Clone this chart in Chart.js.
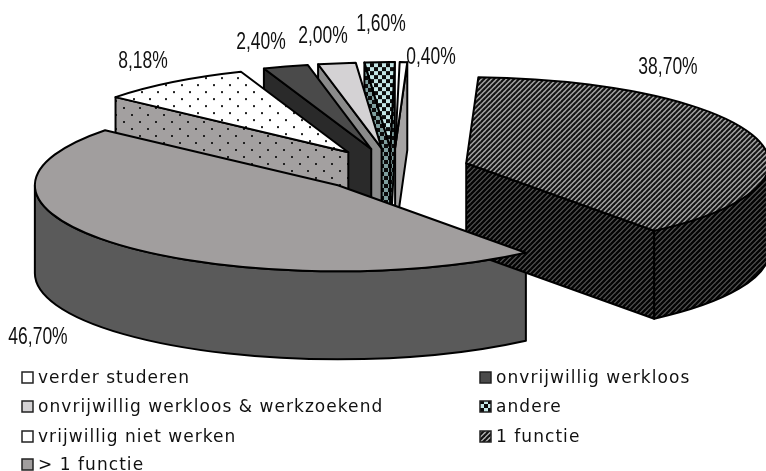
<!DOCTYPE html>
<html>
<head>
<meta charset="utf-8">
<script src="https://cdn.jsdelivr.net/npm/chart.js@4"></script>
<style>
  html, body { margin: 0; padding: 0; background: #fff; }
  canvas { display: block; }
</style>
</head>
<body>
<canvas id="pie" width="766" height="471"></canvas>
<script>
// clockwise from the top of the pie
const categories = ['1 functie', '> 1 functie', 'vrijwillig niet werken', 'onvrijwillig werkloos',
  'onvrijwillig werkloos & werkzoekend', 'andere', 'verder studeren'];
const percentages = [38.70, 46.70, 8.18, 2.40, 2.00, 1.60, 0.40];
// where the percentage text sits, same order
const labelX = [668, 38, 143, 261, 323, 381, 431];
const labelY = [68, 338, 62, 43, 37, 25, 58];
// legend reads left to right, top to bottom
const legendOrder = [6, 3, 4, 5, 2, 0, 1];

const CENTER_X = 393, CENTER_Y = 170;
const RADIUS = 303;
const SQUASH = 0.284;
const EXPLODE = 77;
const DEPTH = 88;

// small tiled fills, like the old office patterns
function makeTile(w, h, draw) {
  const c = document.createElement('canvas');
  c.width = w; c.height = h;
  draw(c.getContext('2d'));
  return c;
}
function stripes(bg, fg, width) {
  return makeTile(5, 5, g => {
    g.fillStyle = bg; g.fillRect(0, 0, 5, 5);
    g.strokeStyle = fg; g.lineWidth = width;
    [[-1, 1, 1, -1], [-1, 6, 6, -1], [4, 6, 6, 4]].forEach(l => {
      g.beginPath(); g.moveTo(l[0], l[1]); g.lineTo(l[2], l[3]); g.stroke();
    });
  });
}
function dots(bg) {
  return makeTile(16, 14, g => {
    g.fillStyle = bg; g.fillRect(0, 0, 16, 14);
    g.fillStyle = '#222';
    g.fillRect(3, 2, 2, 2);
    g.fillRect(11, 9, 2, 2);
  });
}
function checks(bg) {
  return makeTile(8, 8, g => {
    g.fillStyle = bg; g.fillRect(0, 0, 8, 8);
    g.fillStyle = '#0c0c0c';
    g.fillRect(0, 0, 4, 4);
    g.fillRect(4, 4, 4, 4);
  });
}

const ctx0 = document.getElementById('pie').getContext('2d');
// patterns under the squashed transform need stretching back
function pat(tile, squashed) {
  const p = ctx0.createPattern(tile, 'repeat');
  if (squashed) p.setTransform(new DOMMatrix().scale(1, 1 / SQUASH));
  return p;
}

const topTiles = [stripes('#b4b4b4', '#111', 2.2), '#a19e9e', dots('#ffffff'), '#4a4a4a', '#d4d2d4', checks('#c4e6e6'), '#ffffff'];
const wallTiles = [stripes('#5c5c5c', '#050505', 2.5), '#5a5a5a', dots('#a3a0a0'), '#2a2a2a', '#8a8a8a', checks('#7f9f9f'), '#a5a3a3'];
const tileFill = (t, squashed) => typeof t === 'string' ? t : pat(t, squashed);

const topFills = topTiles.map(t => tileFill(t, true));
const wallFills = wallTiles.map(t => tileFill(t, false));
const flatFills = topTiles.map(t => tileFill(t, false));

const pie3d = {
  id: 'pie3d',
  afterDatasetUpdate(chart) {
    // explode by hand, the arc offset option also grows the radius
    chart.getDatasetMeta(0).data.forEach(arc => {
      const mid = (arc.startAngle + arc.endAngle) / 2;
      arc.x += Math.cos(mid) * EXPLODE;
      arc.y += Math.sin(mid) * EXPLODE;
    });
  },
  beforeDatasetsDraw(chart) {
    const ctx = chart.ctx;
    const arcs = chart.getDatasetMeta(0).data;
    const area = chart.chartArea;
    const mx = (area.left + area.right) / 2, my = (area.top + area.bottom) / 2;
    const a = RADIUS, b = RADIUS * SQUASH;

    // sides first, the top faces all go over them
    ctx.save();
    ctx.lineWidth = 2;
    ctx.lineJoin = 'round';
    ctx.strokeStyle = '#000';
    [1, 0, 6, 5, 4, 3, 2].forEach(i => {
      const arc = arcs[i];
      const ax = arc.x - mx + CENTER_X, ay = CENTER_Y + (arc.y - my) * SQUASH;
      const edge = ang => {
        const ex = ax + Math.cos(ang) * a, ey = ay + Math.sin(ang) * b;
        ctx.beginPath();
        ctx.moveTo(ax, ay);
        ctx.lineTo(ex, ey);
        ctx.lineTo(ex, ey + DEPTH);
        ctx.lineTo(ax, ay + DEPTH);
        ctx.closePath();
        ctx.fillStyle = wallFills[i];
        ctx.fill();
        ctx.stroke();
      };
      if (Math.cos(arc.startAngle) < 0) edge(arc.startAngle);
      if (Math.cos(arc.endAngle) > 0) edge(arc.endAngle);
      const from = Math.max(arc.startAngle, 0), to = Math.min(arc.endAngle, Math.PI);
      if (to > from) {
        ctx.beginPath();
        ctx.ellipse(ax, ay, a, b, 0, from, to);
        ctx.ellipse(ax, ay + DEPTH, a, b, 0, to, from, true);
        ctx.closePath();
        ctx.fillStyle = wallFills[i];
        ctx.fill();
        ctx.stroke();
      }
    });
    ctx.restore();

    // chart.js draws the top faces inside this transform
    ctx.save();
    ctx.translate(CENTER_X, CENTER_Y);
    ctx.scale(1, SQUASH);
    ctx.translate(-mx, -my);
  },
  afterDatasetsDraw(chart) {
    const ctx = chart.ctx;
    chart.getDatasetMeta(0).data.forEach(arc => {
      ctx.beginPath();
      ctx.moveTo(arc.x, arc.y);
      ctx.arc(arc.x, arc.y, arc.outerRadius, arc.startAngle, arc.endAngle);
      ctx.closePath();
      // stroke outside the transform so the line keeps its width
      const m = ctx.getTransform();
      ctx.setTransform(1, 0, 0, 1, 0, 0);
      ctx.lineWidth = 2;
      ctx.lineJoin = 'round';
      ctx.strokeStyle = '#000';
      ctx.stroke();
      ctx.setTransform(m);
    });
    ctx.restore();
  },
  afterDraw(chart) {
    const ctx = chart.ctx;
    ctx.save();
    ctx.fillStyle = '#111';
    ctx.textAlign = 'center';
    ctx.textBaseline = 'middle';
    ctx.font = '23px "Liberation Sans"';
    percentages.forEach((v, i) => {
      // no narrow face installed, so squeeze the text
      ctx.save();
      ctx.translate(labelX[i], labelY[i]);
      ctx.scale(0.76, 1);
      ctx.fillText(v.toFixed(2).replace('.', ',') + '%', 0, 0);
      ctx.restore();
    });

    // legend in two columns
    const colX = [22, 480], rowY = [377, 406, 436, 464];
    ctx.textAlign = 'left';
    ctx.font = '17px "DejaVu Sans"';
    ctx.letterSpacing = '1.05px';
    legendOrder.forEach((c, n) => {
      const col = n === 6 ? 0 : n % 2;
      const row = n === 6 ? 3 : Math.floor(n / 2);
      const x = colX[col], y = rowY[row];
      ctx.fillStyle = flatFills[c];
      ctx.fillRect(x, y - 5, 11, 11);
      ctx.lineWidth = 1.5;
      ctx.strokeStyle = '#222';
      ctx.strokeRect(x, y - 5, 11, 11);
      ctx.fillStyle = '#111';
      ctx.fillText(categories[c], x + 16, y + 2);
    });
    ctx.restore();
  }
};

new Chart(ctx0, {
  type: 'pie',
  data: {
    labels: categories,
    datasets: [{
      data: percentages,
      backgroundColor: topFills,
      borderWidth: 0,
      clip: false
    }]
  },
  options: {
    responsive: false,
    animation: false,
    devicePixelRatio: 1,
    radius: RADIUS,
    rotation: 2.3,
    plugins: { legend: { display: false }, tooltip: { enabled: false } },
    events: []
  },
  plugins: [pie3d]
});
</script>
</body>
</html>
